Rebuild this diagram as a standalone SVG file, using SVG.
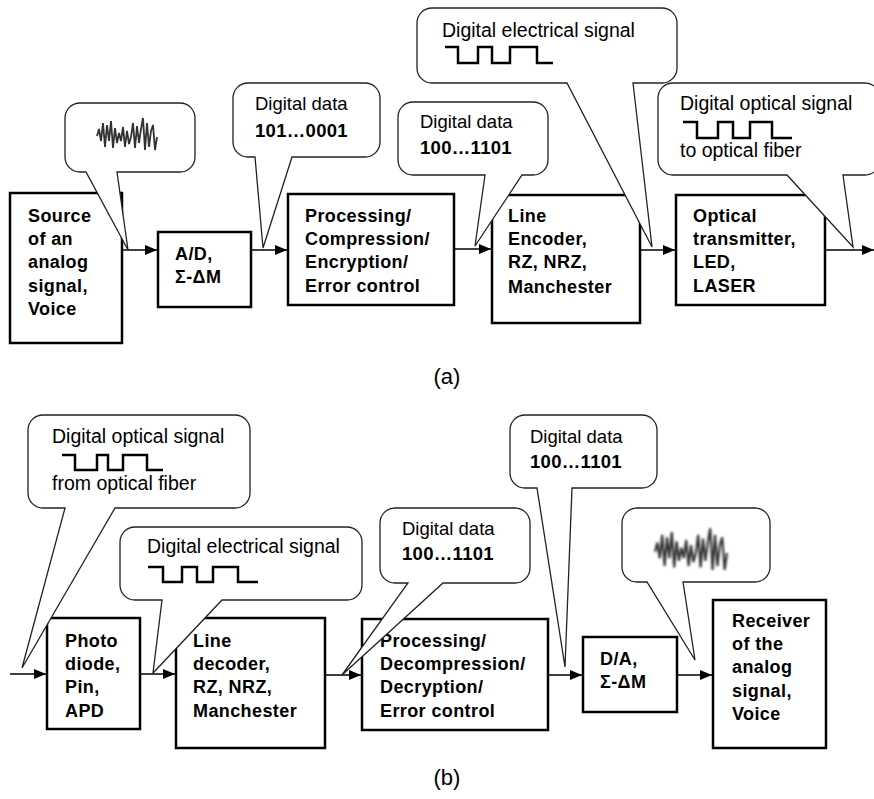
<svg xmlns="http://www.w3.org/2000/svg" width="874" height="799" viewBox="0 0 874 799" font-family="'Liberation Sans', Arial, sans-serif">
<style>
.box{fill:#fff;stroke:#000;stroke-width:2.5}
.bt{font-weight:bold;font-size:18px;letter-spacing:0.4px;fill:#000}
.ct{font-size:18.5px;fill:#000}
.cs{font-size:19.5px}
.cn{font-weight:bold;letter-spacing:0.3px}
.co{fill:#fff;stroke:#222;stroke-width:1.3}
.conn{stroke:#000;stroke-width:1.6;fill:none;marker-end:url(#ah)}
.sq{fill:none;stroke:#000;stroke-width:2.5}
.noise{fill:none;stroke:#333;stroke-width:1.8;filter:url(#blur)}
.lab{font-size:22px;fill:#000;text-anchor:middle}
</style>
<defs>
<marker id="ah" markerUnits="userSpaceOnUse" markerWidth="12" markerHeight="10" refX="12" refY="5" orient="auto"><path d="M0,0 L12,5 L0,10 Z" fill="#000"/></marker>
<filter id="blur" x="-10%" y="-10%" width="120%" height="120%"><feGaussianBlur stdDeviation="0.7"/></filter>
<path id="noise" d="M97,136 L99,129 L101,141 L103,123 L105,147 L107,125 L109,141 L111,121 L113,148 L115,128 L117,143 L119,133 L121,141 L123,127 L125,147 L127,131 L129,144 L131,137 L133,123 L135,148 L137,126 L139,143 L141,129 L143,118 L145,150 L147,123 L149,147 L151,131 L153,125 L155,150 L157,137"/>
</defs>
<rect width="874" height="799" fill="#fff"/>

<g id="connectors">
<line class="conn" x1="122" y1="250" x2="157" y2="250"/>
<line class="conn" x1="251" y1="250" x2="287" y2="250"/>
<line class="conn" x1="454" y1="249" x2="491" y2="249"/>
<line class="conn" x1="640" y1="250" x2="675" y2="250"/>
<line class="conn" x1="825" y1="250" x2="874" y2="250"/>
<line class="conn" x1="10" y1="674" x2="46" y2="674"/>
<line class="conn" x1="140" y1="674" x2="175" y2="674"/>
<line class="conn" x1="325" y1="675" x2="361" y2="675"/>
<line class="conn" x1="548" y1="675" x2="582" y2="675"/>
<line class="conn" x1="677" y1="675" x2="712" y2="675"/>
</g>

<g id="a-source">
<rect class="box" x="10" y="193" width="112" height="150"/>
<text class="bt" x="28" y="222">Source</text>
<text class="bt" x="28" y="245">of an</text>
<text class="bt" x="28" y="268">analog</text>
<text class="bt" x="28" y="292">signal,</text>
<text class="bt" x="28" y="315">Voice</text>
</g>
<g id="a-adc">
<rect class="box" x="158" y="232" width="93" height="75"/>
<text class="bt" x="175" y="260">A/D,</text>
<text class="bt" x="175" y="283">Σ-ΔM</text>
</g>
<g id="a-processing">
<rect class="box" x="288" y="194" width="166" height="111"/>
<text class="bt" x="305" y="222">Processing/</text>
<text class="bt" x="305" y="245">Compression/</text>
<text class="bt" x="305" y="268">Encryption/</text>
<text class="bt" x="305" y="292">Error control</text>
</g>
<g id="a-encoder">
<rect class="box" x="492" y="195" width="148" height="128"/>
<text class="bt" x="508" y="222">Line</text>
<text class="bt" x="508" y="245">Encoder,</text>
<text class="bt" x="508" y="268">RZ, NRZ,</text>
<text class="bt" x="508" y="293">Manchester</text>
</g>
<g id="a-transmitter">
<rect class="box" x="676" y="195" width="149" height="110"/>
<text class="bt" x="693" y="222">Optical</text>
<text class="bt" x="693" y="245">transmitter,</text>
<text class="bt" x="693" y="268">LED,</text>
<text class="bt" x="693" y="292">LASER</text>
</g>

<g id="b-photodiode">
<rect class="box" x="47" y="618" width="93" height="111"/>
<text class="bt" x="65" y="647">Photo</text>
<text class="bt" x="65" y="670">diode,</text>
<text class="bt" x="65" y="693">Pin,</text>
<text class="bt" x="65" y="717">APD</text>
</g>
<g id="b-decoder">
<rect class="box" x="176" y="618" width="149" height="130"/>
<text class="bt" x="193" y="647">Line</text>
<text class="bt" x="193" y="670">decoder,</text>
<text class="bt" x="193" y="693">RZ, NRZ,</text>
<text class="bt" x="193" y="717">Manchester</text>
</g>
<g id="b-processing">
<rect class="box" x="362" y="619" width="186" height="111"/>
<text class="bt" x="380" y="647">Processing/</text>
<text class="bt" x="380" y="670">Decompression/</text>
<text class="bt" x="380" y="693">Decryption/</text>
<text class="bt" x="380" y="717">Error control</text>
</g>
<g id="b-dac">
<rect class="box" x="583" y="637" width="94" height="75"/>
<text class="bt" x="600" y="665">D/A,</text>
<text class="bt" x="600" y="688">Σ-ΔM</text>
</g>
<g id="b-receiver">
<rect class="box" x="713" y="600" width="113" height="148"/>
<text class="bt" x="732" y="627">Receiver</text>
<text class="bt" x="732" y="650">of the</text>
<text class="bt" x="732" y="673">analog</text>
<text class="bt" x="732" y="697">signal,</text>
<text class="bt" x="732" y="720">Voice</text>
</g>

<g id="callout-a1">
<path class="co" d="M80,103 H180 A15,15 0 0 1 195,118 V157 A15,15 0 0 1 180,172 H117 L128,250 L86,172 H80 A15,15 0 0 1 65,157 V118 A15,15 0 0 1 80,103 Z"/>
<use href="#noise" class="noise"/>
</g>
<g id="callout-a2">
<path class="co" d="M248,83 H365 A15,15 0 0 1 380,98 V142 A15,15 0 0 1 365,157 H292 L263,248 L255,157 H248 A15,15 0 0 1 233,142 V98 A15,15 0 0 1 248,83 Z"/>
<text class="ct" x="255" y="110">Digital data</text>
<text class="ct cn" x="255" y="137">101…0001</text>
</g>
<g id="callout-a3">
<path class="co" d="M413,102 H533 A15,15 0 0 1 548,117 V160 A15,15 0 0 1 533,175 H522 L475,246 L485,175 H413 A15,15 0 0 1 398,160 V117 A15,15 0 0 1 413,102 Z"/>
<text class="ct" x="420" y="128">Digital data</text>
<text class="ct cn" x="420" y="154">100…1101</text>
</g>
<g id="callout-a4">
<path class="co" d="M432,8 H662 A15,15 0 0 1 677,23 V68 A15,15 0 0 1 662,83 H633 L652,247 L567,83 H432 A15,15 0 0 1 417,68 V23 A15,15 0 0 1 432,8 Z"/>
<text class="ct cs" x="442" y="37">Digital electrical signal</text>
<path class="sq" d="M445,47 H458 V63 H478 V47 H492 V63 H510 V47 H537 V63 H553"/>
</g>
<g id="callout-a5">
<path class="co" d="M673,83 H865 A15,15 0 0 1 880,98 V160 A15,15 0 0 1 865,175 H843 L853,247 L787,175 H673 A15,15 0 0 1 658,160 V98 A15,15 0 0 1 673,83 Z"/>
<text class="ct cs" x="680" y="110">Digital optical signal</text>
<path class="sq" d="M683,122 H697 V138 H718 V122 H733 V138 H750 V122 H772 V138 H792"/>
<text class="ct cs" x="680" y="157">to optical fiber</text>
</g>

<g id="callout-b1">
<path class="co" d="M43,415 H235 A15,15 0 0 1 250,430 V493 A15,15 0 0 1 235,508 H115 L22,668 L65,508 H43 A15,15 0 0 1 28,493 V430 A15,15 0 0 1 43,415 Z"/>
<text class="ct cs" x="52" y="443">Digital optical signal</text>
<path class="sq" d="M62,455 H75 V470 H97 V455 H108 V470 H123 V455 H147 V470 H163"/>
<text class="ct cs" x="52" y="490">from optical fiber</text>
</g>
<g id="callout-b2">
<path class="co" d="M135,527 H347 A15,15 0 0 1 362,542 V585 A15,15 0 0 1 347,600 H222 L153,673 L162,600 H135 A15,15 0 0 1 120,585 V542 A15,15 0 0 1 135,527 Z"/>
<text class="ct cs" x="147" y="553">Digital electrical signal</text>
<path class="sq" d="M148,567 H163 V582 H182 V567 H197 V582 H213 V567 H238 V582 H258"/>
</g>
<g id="callout-b3">
<path class="co" d="M395,508 H515 A15,15 0 0 1 530,523 V568 A15,15 0 0 1 515,583 H443 L342,675 L408,583 H395 A15,15 0 0 1 380,568 V523 A15,15 0 0 1 395,508 Z"/>
<text class="ct" x="402" y="535">Digital data</text>
<text class="ct cn" x="402" y="560">100…1101</text>
</g>
<g id="callout-b4">
<path class="co" d="M525,415 H642 A15,15 0 0 1 657,430 V473 A15,15 0 0 1 642,488 H572 L565,667 L537,488 H525 A15,15 0 0 1 510,473 V430 A15,15 0 0 1 525,415 Z"/>
<text class="ct" x="530" y="443">Digital data</text>
<text class="ct cn" x="530" y="468">100…1101</text>
</g>
<g id="callout-b5">
<path class="co" d="M637,508 H755 A15,15 0 0 1 770,523 V567 A15,15 0 0 1 755,582 H683 L695,660 L647,582 H637 A15,15 0 0 1 622,567 V523 A15,15 0 0 1 637,508 Z"/>
<use href="#noise" class="noise" transform="translate(655,527) scale(1.2,1.3) translate(-97,-117)"/>
</g>

<text class="lab" x="447" y="384">(a)</text>
<text class="lab" x="447" y="785">(b)</text>
</svg>
